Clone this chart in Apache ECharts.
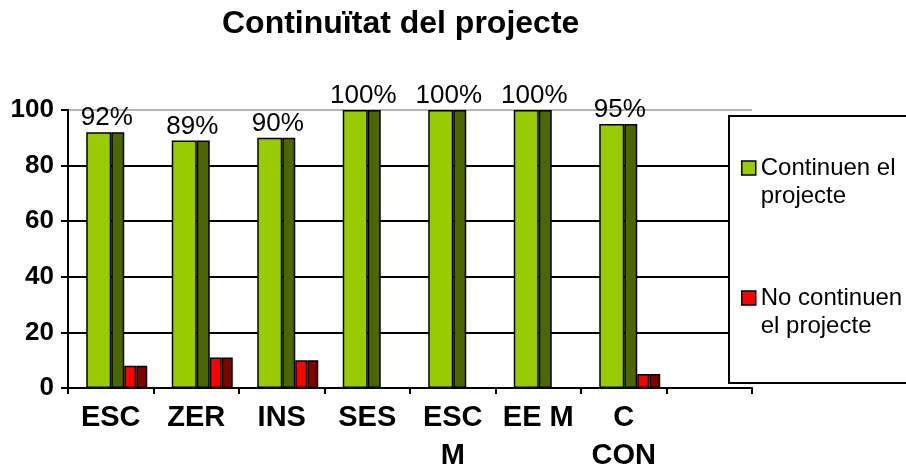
<!DOCTYPE html>
<html>
<head>
<meta charset="utf-8">
<script src="https://cdn.jsdelivr.net/npm/echarts@6/dist/echarts.min.js"></script>
<style>
    html, body {margin: 0; padding: 0; background: #fff;}
    #chart {width: 906px; height: 475px;}
</style>
</head>
<body>
<div id="chart"></div>
<script>
const titleText = 'Continuïtat del projecte';
const categories = ['ESC', 'ZER', 'INS', 'SES', 'ESC\nM', 'EE M', 'C\nCON', ''];
const continuen = [92, 89, 90, 100, 100, 100, 95, '-'];
const noContinuen = [8, 11, 10, 0, 0, 0, 5, '-'];
const seriesNames = ['Continuen el projecte', 'No continuen el projecte'];
const yMin = 0, yMax = 100, yStep = 20;

const font = 'Liberation Sans, Arial, sans-serif';
const border = {borderColor: '#000', borderWidth: 1.5};

// the 3D look of the original: a front face and a darker side face for each series
function face(name, data, color, width, extra) {
    return Object.assign({
        name: name,
        type: 'bar',
        data: data,
        barWidth: width,
        barGap: '0%',
        itemStyle: Object.assign({color: color}, border),
        emphasis: {disabled: true}
    }, extra || {});
}

const myChart = echarts.init(document.getElementById('chart'), null, {renderer: 'canvas'});

const option = {
    animation: false,
    backgroundColor: '#fff',
    textStyle: {fontFamily: font},
    title: {
        text: titleText,
        left: 222,
        top: 8,
        padding: 0,
        textStyle: {fontFamily: font, fontSize: 32, fontWeight: 'bold', color: '#000'}
    },
    legend: {
        orient: 'vertical',
        left: 729,
        top: 116,
        padding: [10, 30, 43, 12],
        itemGap: 46,
        itemWidth: 14,
        itemHeight: 14,
        icon: 'rect',
        selectedMode: false,
        borderColor: '#000',
        borderWidth: 2,
        backgroundColor: '#fff',
        data: seriesNames,
        itemStyle: {borderColor: '#000', borderWidth: 1.5},
        formatter: function (name) {
            // first line lines up with the square, as in the original
            return name === seriesNames[0] ? '\nContinuen el\nprojecte' : '\nNo continuen\nel projecte';
        },
        textStyle: {fontFamily: font, fontSize: 24, lineHeight: 28, color: '#000'}
    },
    grid: {left: 68, right: 154, top: 110, bottom: 84, containLabel: false},
    xAxis: {
        type: 'category',
        data: categories,
        axisLine: {show: true, lineStyle: {color: '#000', width: 2}},
        axisTick: {show: true, interval: 0, length: 6, alignWithLabel: false, lineStyle: {color: '#000', width: 2}},
        axisLabel: {
            interval: 0, margin: 11,
            fontFamily: font, fontSize: 29, fontWeight: 'bold', lineHeight: 38, color: '#000'
        },
        splitLine: {show: false}
    },
    yAxis: {
        type: 'value',
        min: yMin,
        max: yMax,
        interval: yStep,
        axisLine: {show: true, lineStyle: {color: '#000', width: 2}},
        axisTick: {show: true, length: 7, lineStyle: {color: '#000', width: 2}},
        axisLabel: {margin: 14, fontFamily: font, fontSize: 26, fontWeight: 'bold', color: '#000'},
        splitLine: {
            show: true,
            lineStyle: {color: ['#000', '#000', '#000', '#000', '#000', '#b4b4b4'], width: 2}
        }
    },
    series: [
        // empty slot that pushes the cluster to the right, as in the original
        {
            name: 'pad', type: 'bar', data: categories.map(() => 0), barWidth: 12, barGap: '0%',
            itemStyle: {color: 'rgba(0,0,0,0)', borderWidth: 0}, silent: true
        },
        face(seriesNames[0], continuen, '#99cc00', 25, {
            label: {
                show: true, position: 'top', distance: 1, offset: [8, 0],
                formatter: '{c}%', fontFamily: font, fontSize: 26, color: '#000'
            }
        }),
        face('Continuen (lateral)', continuen, '#4c6600', 13),
        face(seriesNames[1], noContinuen, '#ff0000', 12),
        face('No continuen (lateral)', noContinuen, '#800000', 11)
    ]
};

myChart.setOption(option);
</script>
</body>
</html>
